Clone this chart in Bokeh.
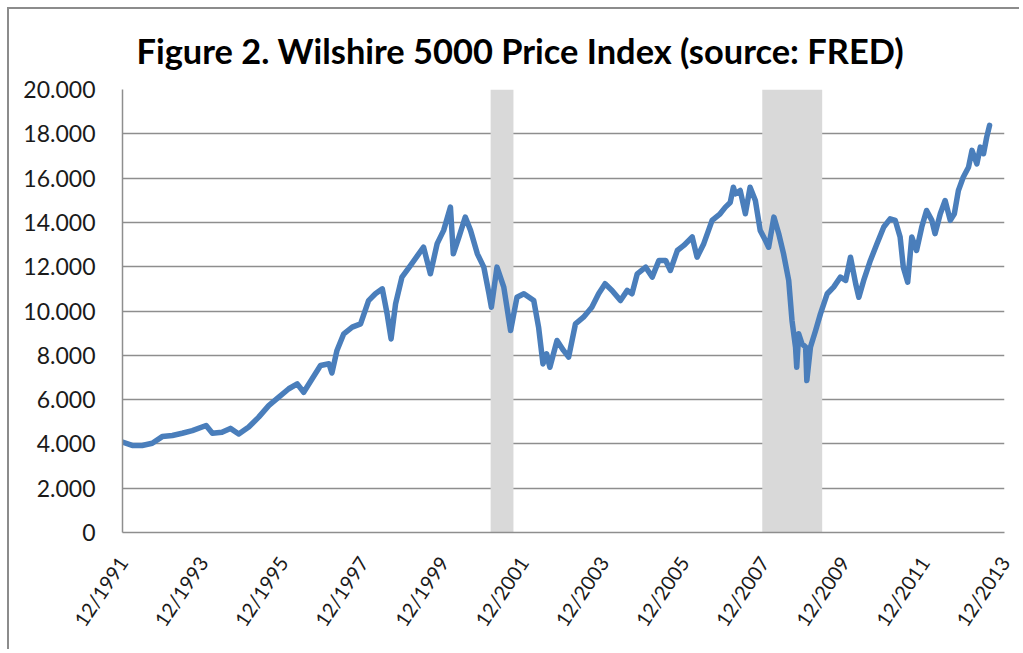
import pandas as pd
from bokeh.plotting import figure
from bokeh.models import Range1d, FixedTicker, DatetimeTickFormatter, CustomJSTickFormatter, ColumnDataSource
from bokeh.embed import file_html
from bokeh.resources import INLINE

title_text = "Figure 2. Wilshire 5000 Price Index (source: FRED)"

dates = [
    "1991-12-01", "1992-02-27", "1992-05-28", "1992-08-28", "1992-11-27",
    "1993-02-27", "1993-05-28", "1993-08-28", "1994-01-01", "1994-02-27",
    "1994-05-25", "1994-08-10", "1994-10-25", "1995-01-24", "1995-04-25",
    "1995-07-25", "1995-10-25", "1996-01-24", "1996-04-10", "1996-06-08",
    "1996-08-24", "1996-11-08", "1997-01-24", "1997-02-20", "1997-04-07",
    "1997-06-08", "1997-08-24", "1997-11-08", "1998-01-20", "1998-03-23",
    "1998-05-25", "1998-07-08", "1998-08-13", "1998-09-23", "1998-11-20",
    "1999-02-05", "1999-04-22", "1999-06-05", "1999-08-06", "1999-10-07",
    "1999-12-05", "2000-02-05", "2000-03-02", "2000-04-22", "2000-06-19",
    "2000-08-06", "2000-10-07", "2000-12-05", "2001-01-21", "2001-02-12",
    "2001-04-04", "2001-06-05", "2001-08-06", "2001-10-03", "2001-12-05",
    "2002-03-05", "2002-04-18", "2002-05-28", "2002-06-30", "2002-07-30",
    "2002-10-03", "2002-12-01", "2003-01-17", "2003-03-20", "2003-06-01",
    "2003-08-16", "2003-10-17", "2003-12-15", "2004-02-16", "2004-05-03",
    "2004-07-04", "2004-08-16", "2004-10-03", "2004-12-19", "2005-02-16",
    "2005-04-18", "2005-06-19", "2005-08-01", "2005-10-03", "2005-12-01",
    "2006-02-16", "2006-04-01", "2006-06-01", "2006-08-16", "2006-10-28",
    "2006-12-15", "2007-01-28", "2007-02-26", "2007-03-16", "2007-04-29",
    "2007-06-15", "2007-07-28", "2007-09-14", "2007-10-28", "2007-12-15",
    "2008-01-13", "2008-03-01", "2008-04-14", "2008-05-28", "2008-07-14",
    "2008-08-13", "2008-09-14", "2008-09-25", "2008-10-13", "2008-11-12",
    "2008-12-15", "2008-12-26", "2009-01-28", "2009-03-16", "2009-04-29",
    "2009-06-30", "2009-08-27", "2009-10-28", "2009-12-15", "2010-01-28",
    "2010-03-16", "2010-04-14", "2010-05-28", "2010-07-28", "2010-09-26",
    "2010-11-27", "2011-01-24", "2011-03-12", "2011-04-25", "2011-05-24",
    "2011-07-03", "2011-08-09", "2011-09-22", "2011-11-08", "2011-12-22",
    "2012-02-08", "2012-03-08", "2012-04-25", "2012-06-08", "2012-07-25",
    "2012-08-31", "2012-10-07", "2012-11-20", "2013-01-07", "2013-02-08",
    "2013-03-24", "2013-04-25", "2013-05-24", "2013-06-22", "2013-07-18",
]
values = [
    4080, 3930, 3930, 4030, 4330,
    4380, 4480, 4600, 4830, 4480,
    4530, 4700, 4450, 4760, 5210,
    5730, 6110, 6490, 6710, 6330,
    6940, 7540, 7620, 7200, 8220,
    8970, 9270, 9420, 10470, 10780,
    11000, 9870, 8740, 10320, 11530,
    12050, 12580, 12880, 11680, 13040,
    13640, 14690, 12580, 13340, 14240,
    13640, 12580, 11980, 10780, 10170,
    11980, 11080, 9120, 10620, 10780,
    10470, 9270, 7610, 8070, 7460,
    8670, 8220, 7920, 9420, 9720,
    10170, 10780, 11230, 10930, 10470,
    10930, 10780, 11680, 11980, 11530,
    12280, 12280, 11830, 12730, 12960,
    13340, 12430, 13040, 14090, 14390,
    14690, 14900, 15590, 15290, 15440,
    14390, 15590, 14990, 13640, 13180,
    12880, 14240, 13490, 12580, 11380,
    9570, 8370, 7460, 8970, 8520,
    8370, 6860, 8370, 9120, 9870,
    10780, 11080, 11530, 11380, 12430,
    11230, 10620, 11380, 12280, 13040,
    13790, 14160, 14090, 13340, 11980,
    11300, 13340, 12730, 13790, 14540,
    14090, 13490, 14390, 14990, 14090,
    14390, 15440, 16040, 16490, 17250,
    16640, 17400, 17100, 17850, 18380,
]

recession_start = ["2001-02-05", "2007-11-16"]
recession_end = ["2001-09-01", "2009-05-15"]

x_tick_labels = ["12/1991", "12/1993", "12/1995", "12/1997", "12/1999", "12/2001",
                 "12/2003", "12/2005", "12/2007", "12/2009", "12/2011", "12/2013"]
y_ticks = [0, 2000, 4000, 6000, 8000, 10000, 12000, 14000, 16000, 18000, 20000]

line_src = ColumnDataSource(dict(date=pd.to_datetime(dates), value=values))
rec_src = ColumnDataSource(dict(
    left=pd.to_datetime(recession_start),
    right=pd.to_datetime(recession_end),
    bottom=[y_ticks[0]] * len(recession_start),
    top=[y_ticks[-1]] * len(recession_start),
))

tick_dates = pd.to_datetime(x_tick_labels, format="%m/%Y")
tick_ms = [float((d - pd.Timestamp("1970-01-01")) / pd.Timedelta(milliseconds=1)) for d in tick_dates]

p = figure(
    width=1012, height=642,
    x_axis_type="datetime",
    x_range=Range1d(tick_dates[0], tick_dates[-1]),
    y_range=Range1d(y_ticks[0], y_ticks[-1]),
    output_backend="svg", toolbar_location=None,
    min_border_left=113, min_border_right=17, min_border_top=80, min_border_bottom=119,
)
p.styles = {
    "border-top": "2px solid #8c8c8c", "border-left": "2px solid #8c8c8c",
    "margin-top": "7px", "margin-left": "7px",
}
p.outline_line_color = None
p.background_fill_color = "white"
p.border_fill_color = "white"

p.title.text = title_text
p.title.text_font = "Lato"
p.title.text_font_style = "bold"
p.title.text_font_size = "34.4px"
p.title.text_color = "#000000"
p.title.align = "left"
p.title.offset = 14
p.title.standoff = 37

p.quad(left="left", right="right", bottom="bottom", top="top", source=rec_src,
       fill_color="#d9d9d9", line_color=None)
p.line(x="date", y="value", source=line_src, line_color="#4a7ebb", line_width=5.5,
       line_join="round", line_cap="round")

# axes
p.xaxis.ticker = FixedTicker(ticks=tick_ms)
p.xaxis.formatter = DatetimeTickFormatter(
    years="%m/%Y", months="%m/%Y", days="%m/%Y", hours="%m/%Y",
    minutes="%m/%Y", seconds="%m/%Y", milliseconds="%m/%Y", microseconds="%m/%Y",
    hourmin="%m/%Y", minsec="%m/%Y",
)
p.xaxis.major_label_orientation = 0.98
p.xaxis.major_label_standoff = 20
p.yaxis.ticker = FixedTicker(ticks=y_ticks)
p.yaxis.formatter = CustomJSTickFormatter(
    code="return Math.round(tick).toString().replace(/\\B(?=(\\d{3})+(?!\\d))/g, '.');")
p.yaxis.major_label_standoff = 21

for ax in (p.xaxis[0], p.yaxis[0]):
    ax.axis_line_color = "#8e8e8e"
    ax.axis_line_width = 1.5
    ax.major_tick_line_color = None
    ax.minor_tick_line_color = None
    ax.major_label_text_font = "Lato"
    ax.major_label_text_color = "#1a1a1a"
p.xaxis.major_label_text_font_size = "20px"
p.yaxis.major_label_text_font_size = "23px"

p.xgrid.grid_line_color = None
p.ygrid.ticker = FixedTicker(ticks=y_ticks)
p.ygrid.grid_line_color = "#8e8e8e"
p.ygrid.grid_line_width = 1.5

open("out.html", "w").write(file_html(p, INLINE))
